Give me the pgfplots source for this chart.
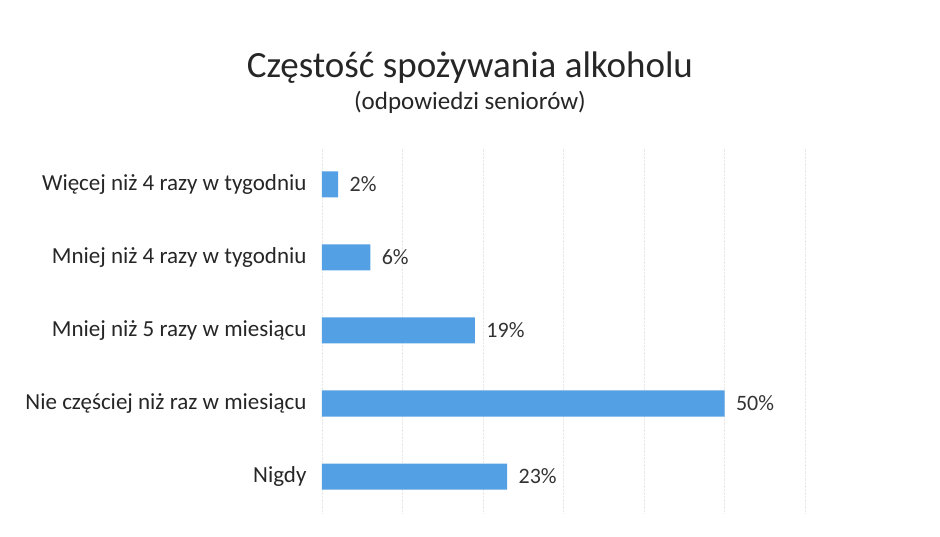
\documentclass[border=0pt]{standalone}
\usepackage{fontspec}
\setmainfont{Carlito}
\usepackage{pgfplots}
\pgfplotsset{compat=1.18}
\definecolor{barblue}{RGB}{84,160,228}

\begin{document}
\begin{tikzpicture}
\begin{axis}[
    at={(322pt,23pt)}, anchor=south west,
    scale only axis,
    width=483pt, height=365pt,
    xbar, bar width=26pt,
    xmin=0, xmax=60,
    ymin=-0.5, ymax=4.5,
    xtick={0,10,...,60},
    xticklabels={},
    major tick length=0pt,
    xmajorgrids,
    grid style={densely dotted, black!9},
    axis line style={draw=none},
    ytick={0,1,2,3,4},
    yticklabels={Nigdy, Nie częściej niż raz w miesiącu, Mniej niż 5 razy w miesiącu, Mniej niż 4 razy w tygodniu, Więcej niż 4 razy w tygodniu},
    yticklabel style={font=\fontsize{23}{26}\selectfont, text=black!85, xshift=-12pt},
    /pgf/number format/assume math mode=true,
    nodes near coords={\pgfmathprintnumber{\pgfplotspointmeta}\%},
    nodes near coords style={font=\fontsize{22}{25}\selectfont, text=black!80, xshift=8pt},
    point meta=x,
]
\addplot[fill=barblue, draw=none] coordinates {
    (23,0) (50,1) (19,2) (6,3) (2,4)
};
\end{axis}
\node[font=\fontsize{37}{42}\selectfont, text=black!85] at (470pt,468pt) {Częstość spożywania alkoholu};
\node[font=\fontsize{25}{28}\selectfont, text=black!85] at (470pt,434pt) {(odpowiedzi seniorów)};
\path[use as bounding box] (0,0) rectangle (940pt,536pt);
\end{tikzpicture}
\end{document}
